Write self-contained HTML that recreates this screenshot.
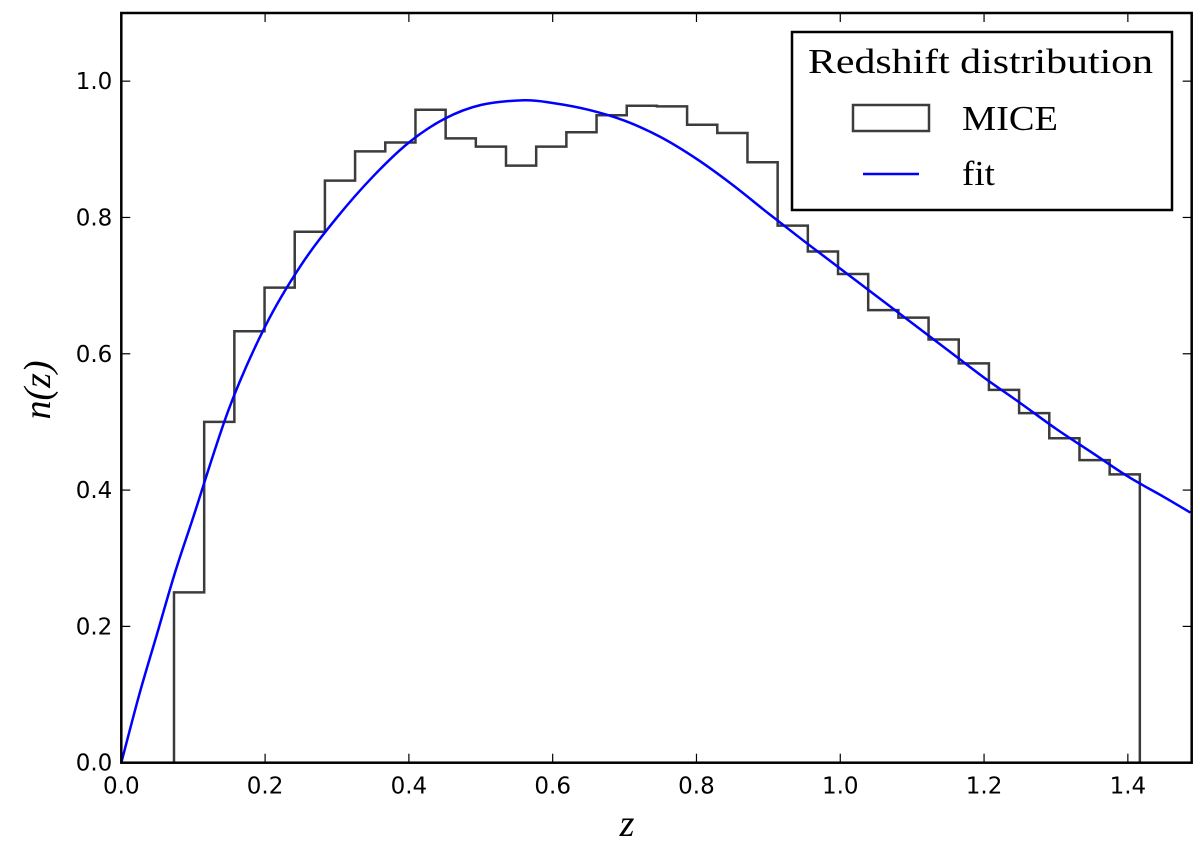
<!DOCTYPE html>
<html><head><meta charset="utf-8"><style>
body{margin:0;background:#fff;}
svg{display:block;}
.tick{font-family:"DejaVu Sans","Liberation Sans",sans-serif;font-size:23px;fill:#000;}
.serif{font-family:"Liberation Serif","DejaVu Serif",serif;fill:#000;}
</style></head><body>
<svg id="chart" width="1200" height="853" viewBox="0 0 1200 853">
<rect x="0" y="0" width="1200" height="853" fill="#fff"/>
<g id="plot"></g>
<g id="axes"></g>
<g id="legend">
<rect x="792" y="32" width="380" height="178" fill="#fff" stroke="#000" stroke-width="2.5"/>
<text x="808" y="73" textLength="345" lengthAdjust="spacingAndGlyphs" class="serif" font-size="35">Redshift distribution</text>
<rect x="853" y="105" width="76" height="26" fill="none" stroke="#3c3c3c" stroke-width="2.5"/>
<text x="962" y="130" textLength="96" lengthAdjust="spacingAndGlyphs" class="serif" font-size="35">MICE</text>
<line x1="863" y1="174" x2="919" y2="174" stroke="#0000ff" stroke-width="2.5"/>
<text x="962" y="185" textLength="33" lengthAdjust="spacingAndGlyphs" class="serif" font-size="35">fit</text>
</g>
<text x="627" y="836" text-anchor="middle" class="serif" font-size="38" font-style="italic">z</text>
<text transform="translate(50,390) rotate(-90)" text-anchor="middle" class="serif" font-size="38" font-style="italic">n(z)</text>
</svg>
<script>
const binStart = 0.0733;
const binWidth = 0.04198;
const binValues = [0.25,0.50,0.633,0.697,0.779,0.854,0.897,0.910,0.958,0.916,0.904,0.876,0.904,0.925,0.950,0.964,0.963,0.936,0.924,0.881,0.788,0.750,0.717,0.664,0.653,0.621,0.586,0.547,0.513,0.476,0.444,0.423];
const fitZ = [0,0.025,0.05,0.075,0.1,0.15,0.2,0.25,0.3,0.35,0.4,0.45,0.5,0.56,0.6,0.65,0.7,0.75,0.8,0.85,0.9,0.95,1.0,1.05,1.1,1.15,1.2,1.25,1.3,1.35,1.4,1.45,1.487];
const fitN = [0,0.10,0.19,0.28,0.36,0.52,0.64,0.73,0.80,0.86,0.91,0.945,0.965,0.972,0.968,0.958,0.942,0.918,0.886,0.848,0.806,0.765,0.725,0.685,0.645,0.605,0.565,0.528,0.49,0.455,0.42,0.39,0.367];
const xTicks = [0,0.2,0.4,0.6,0.8,1.0,1.2,1.4];
const yTicks = [0,0.2,0.4,0.6,0.8,1.0];

const L=121.3,R=1191.7,T=13,B=762.7,XMAX=1.4888,YMAX=1.1;
function xs(v){return L+(v/XMAX)*(R-L);}
function ys(v){return B-(v/YMAX)*(B-T);}
const NS='http://www.w3.org/2000/svg';
const plot=document.getElementById('plot'), axes=document.getElementById('axes');
function mk(tag,attrs,parent){const e=document.createElementNS(NS,tag);for(const k in attrs)e.setAttribute(k,attrs[k]);parent.appendChild(e);return e;}

let d='M'+xs(binStart)+','+ys(0);
binValues.forEach((v,i)=>{
  const x0=xs(binStart+i*binWidth), x1=xs(binStart+(i+1)*binWidth);
  d+=' L'+x0+','+ys(v)+' L'+x1+','+ys(v);
});
d+=' L'+xs(binStart+binValues.length*binWidth)+','+ys(0);
const hist=mk('path',{d:d,fill:'none',stroke:'#3c3c3c','stroke-width':2.5},plot);



const pts=fitZ.map((z,i)=>[xs(z),ys(fitN[i])]);
let fd='M'+pts[0][0]+','+pts[0][1];
for(let i=0;i<pts.length-1;i++){
  const p0=pts[Math.max(0,i-1)],p1=pts[i],p2=pts[i+1],p3=pts[Math.min(pts.length-1,i+2)];
  const c1=[p1[0]+(p2[0]-p0[0])/6,p1[1]+(p2[1]-p0[1])/6];
  const c2=[p2[0]-(p3[0]-p1[0])/6,p2[1]-(p3[1]-p1[1])/6];
  fd+=' C'+c1[0]+','+c1[1]+' '+c2[0]+','+c2[1]+' '+p2[0]+','+p2[1];
}
const fit=mk('path',{d:fd,fill:'none',stroke:'#0000ff','stroke-width':2.5,'stroke-linejoin':'round'},plot);



const frame=mk('rect',{x:L,y:T,width:R-L,height:B-T,fill:'none',stroke:'#000','stroke-width':2.5},axes);



xTicks.forEach(v=>{
  const x=xs(v);
  const t1=mk('line',{x1:x,y1:B,x2:x,y2:B-9,stroke:'#000','stroke-width':1.2},axes);
  
  
  const t2=mk('line',{x1:x,y1:T,x2:x,y2:T+9,stroke:'#000','stroke-width':1.2},axes);
  
  
  const lb=mk('text',{x:x,y:B+31,'text-anchor':'middle','class':'tick'},axes);
  lb.textContent=v.toFixed(1);
  
  
});
yTicks.forEach(v=>{
  const y=ys(v);
  const t1=mk('line',{x1:L,y1:y,x2:L+9,y2:y,stroke:'#000','stroke-width':1.2},axes);
  
  
  const t2=mk('line',{x1:R,y1:y,x2:R-9,y2:y,stroke:'#000','stroke-width':1.2},axes);
  
  
  const lb=mk('text',{x:L-9,y:y+8,'text-anchor':'end','class':'tick'},axes);
  lb.textContent=v.toFixed(1);
  
  
});
</script>
</body></html>
